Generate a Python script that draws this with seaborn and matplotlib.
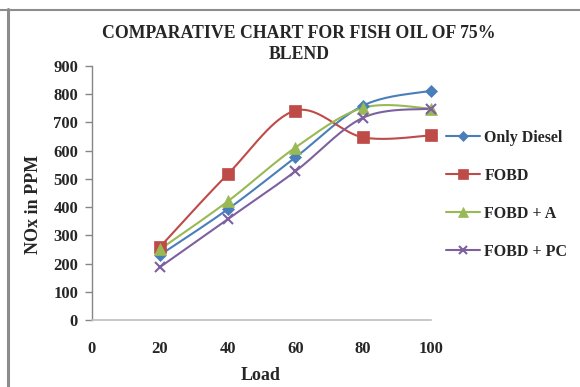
import numpy as np
import pandas as pd
import matplotlib
matplotlib.use("Agg")
import matplotlib.pyplot as plt
from matplotlib.lines import Line2D
import seaborn as sns

# Engine load (%) and NOx emissions (ppm) for each fuel
load = [20, 40, 60, 80, 100]
only_diesel = [230, 392, 576, 760, 812]
fobd = [258, 516, 742, 647, 654]
fobd_a = [250, 420, 611, 752, 749]
fobd_pc = [187, 357, 527, 717, 749]

series_names = ["Only Diesel", "FOBD", "FOBD + A", "FOBD + PC"]
series_values = [only_diesel, fobd, fobd_a, fobd_pc]
colors = ["#4A7EBB", "#BE4B48", "#98B954", "#7D60A0"]
markers = ["D", "s", "^", "x"]
msizes = [6.5, 8, 8, 7]

y_ticks = [0, 100, 200, 300, 400, 500, 600, 700, 800, 900]
x_ticks = [0, 20, 40, 60, 80, 100]


def smooth_curve(xs, ys, n=40):
    """Bezier smoothing through every point (Catmull-Rom style control points)."""
    p = np.column_stack([xs, ys]).astype(float)
    ext = np.vstack([p[0], p, p[-1]])
    out = []
    t = np.linspace(0, 1, n)[:, None]
    for i in range(1, len(ext) - 2):
        p0, p1, p2, p3 = ext[i - 1], ext[i], ext[i + 1], ext[i + 2]
        c1 = p1 + (p2 - p0) / 6.0
        c2 = p2 - (p3 - p1) / 6.0
        seg = ((1 - t) ** 3) * p1 + 3 * ((1 - t) ** 2) * t * c1 + 3 * (1 - t) * t ** 2 * c2 + t ** 3 * p2
        out.append(seg if i == 1 else seg[1:])
    return np.vstack(out)


sns.set_theme(style="white")
plt.rcParams["font.family"] = ["Liberation Serif", "DejaVu Serif"]
plt.rcParams["font.weight"] = "bold"

fig = plt.figure(figsize=(5.8, 3.87), dpi=100)
ax = fig.add_axes([92 / 580, 1 - 320 / 387, (431 - 92) / 580, (320 - 66) / 387])

for name, vals, c, m, ms in zip(series_names, series_values, colors, markers, msizes):
    curve = smooth_curve(load, vals)
    df = pd.DataFrame({"x": curve[:, 0], "y": curve[:, 1]})
    sns.lineplot(data=df, x="x", y="y", ax=ax, color=c, lw=1.5, sort=False,
                 estimator=None, legend=False)
    pts = pd.DataFrame({"x": load, "y": vals})
    ax.plot(pts["x"], pts["y"], ls="none", marker=m, color=c, ms=ms,
            mew=1.5 if m == "x" else 0.5, mec=c, zorder=5, clip_on=False)

ax.set_xlim(0, 100)
ax.set_ylim(0, 900)
ax.set_yticks(y_ticks)
ax.set_xticks(x_ticks)
ax.set_yticklabels([str(v) for v in y_ticks], fontsize=12, fontweight="bold")
ax.set_xticklabels([str(v) for v in x_ticks], fontsize=12, fontweight="bold")
ax.tick_params(axis="y", which="both", left=True, length=5, width=1, color="#868686", pad=5)
ax.tick_params(axis="x", which="both", bottom=False, length=0, pad=15)

for s in ["top", "right"]:
    ax.spines[s].set_visible(False)
ax.spines["left"].set_color("#868686")
ax.spines["left"].set_linewidth(1)
ax.spines["bottom"].set_color("#BFBFBF")
ax.spines["bottom"].set_linewidth(1.2)
ax.grid(False)
ax.patch.set_alpha(0)

ax.set_xlabel("Load", fontsize=13, fontweight="bold")
ax.set_ylabel("NOx in PPM", fontsize=13, fontweight="bold")
ax.xaxis.label.set_va("center")
ax.yaxis.label.set_va("center")
ax.xaxis.set_label_coords((261 - 92) / 339, (320 - 376) / 254)
ax.yaxis.set_label_coords((34 - 92) / 339, (320 - 204) / 254)

fig.text(299 / 580, 1 - 44 / 387, "COMPARATIVE CHART FOR FISH OIL OF 75%\nBLEND",
         ha="center", va="center", fontsize=12.8, fontweight="bold", linespacing=1.27)

handles = [Line2D([], [], color=c, marker=m, ms=ms - 1, lw=1.5,
                  mew=1.5 if m == "x" else 0.5, mec=c)
           for c, m, ms in zip(colors, markers, msizes)]
fig.legend(handles, series_names, loc="center left",
           bbox_to_anchor=(446 / 580, 1 - 195 / 387), bbox_transform=fig.transFigure,
           frameon=False, handlelength=2.1, handletextpad=0.3,
           labelspacing=1.38, borderpad=0, borderaxespad=0,
           prop={"weight": "bold", "size": 11.5})

# Chart-area border along the top and left edges
fig.add_artist(Line2D([0, 1], [1 - 9.5 / 387, 1 - 9.5 / 387], transform=fig.transFigure,
                      color="#8C8C8C", lw=1.5))
fig.add_artist(Line2D([7.5 / 580, 7.5 / 580], [0, 1 - 9 / 387], transform=fig.transFigure,
                      color="#8C8C8C", lw=2.2))

fig.savefig("out.png", dpi=100)
